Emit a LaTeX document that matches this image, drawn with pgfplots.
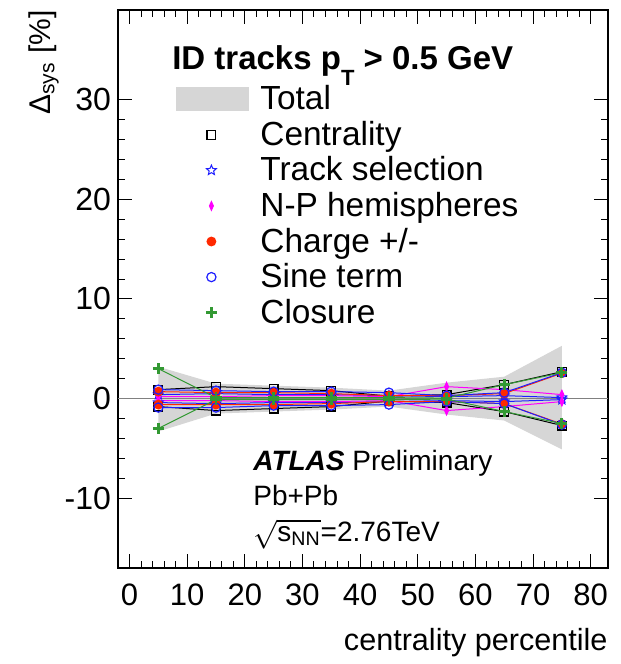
\documentclass[border=0pt]{standalone}
\usepackage{pgfplots}
\pgfplotsset{compat=1.18}
\usepackage{fontspec}
\setmainfont{Liberation Sans}
\usetikzlibrary{plotmarks}
\definecolor{cgreen}{RGB}{51,153,51}
\definecolor{cred}{RGB}{255,40,0}
\definecolor{cblue}{RGB}{30,30,255}
\definecolor{cmag}{RGB}{255,0,255}
\definecolor{cband}{RGB}{214,214,214}
\pgfdeclareplotmark{ostar}{%
  \pgfpathmoveto{\pgfpointpolar{90}{\pgfplotmarksize}}%
  \pgfpathlineto{\pgfpointpolar{126}{0.45\pgfplotmarksize}}%
  \pgfpathlineto{\pgfpointpolar{162}{\pgfplotmarksize}}%
  \pgfpathlineto{\pgfpointpolar{198}{0.45\pgfplotmarksize}}%
  \pgfpathlineto{\pgfpointpolar{234}{\pgfplotmarksize}}%
  \pgfpathlineto{\pgfpointpolar{270}{0.45\pgfplotmarksize}}%
  \pgfpathlineto{\pgfpointpolar{306}{\pgfplotmarksize}}%
  \pgfpathlineto{\pgfpointpolar{342}{0.45\pgfplotmarksize}}%
  \pgfpathlineto{\pgfpointpolar{18}{\pgfplotmarksize}}%
  \pgfpathlineto{\pgfpointpolar{54}{0.45\pgfplotmarksize}}%
  \pgfpathclose\pgfusepathqstroke}
\pgfplotsset{
  markleg/.style={legend image code/.code={\draw[##1] plot coordinates {(17.5pt,0pt)};}},
  bandleg/.style={legend image code/.code={\fill[cband] (0pt,-6pt) rectangle (36.5pt,6pt);}},
}
\begin{document}
\begin{tikzpicture}
\path (-59pt,-48pt) rectangle (251.5pt,284pt);
\begin{axis}[
  at={(0pt,0pt)}, anchor=south west,
  scale only axis, width=245pt, height=279pt,
  xmin=-2, xmax=83, ymin=-17, ymax=39,
  xtick={0,10,...,80}, ytick={-10,0,10,20,30},
  minor x tick num=4, minor y tick num=4,
  major tick length=7pt, minor tick length=3.5pt,
  tick style={black, line width=0.5pt},
  axis line style={line width=0.9pt},
  /pgf/number format/assume math mode=true,
  yticklabel style={font=\fontsize{16}{16}\selectfont},
  xticklabel style={font=\fontsize{15.5}{15.5}\selectfont, yshift=-4.5pt},
  xlabel={centrality percentile},
  xlabel style={at={(axis description cs:1,-0.108)}, anchor=north east, inner sep=0pt, font=\fontsize{15.3}{15.3}\selectfont},
  ylabel={Δ\textsubscript{sys} [\%]},
  ylabel style={at={(axis description cs:-0.1837,1)}, anchor=north east, inner sep=0pt, font=\fontsize{15}{15}\selectfont},
  legend style={draw=none, fill=none, at={(rel axis cs:0.1184,0.8726)}, anchor=north west,
    font=\fontsize{16.7}{19}\selectfont, inner sep=0pt, row sep=0.2pt,
    /tikz/every odd column/.append style={column sep=3.5pt}},
  legend cell align=left,
  clip=false,
]
\addplot[draw=none, fill=cband, bandleg]
  coordinates {(5,3.2) (15,1.5) (25,1.3) (35,1.1) (45,0.8) (55,1.6) (65,2.2) (75,5.3)
               (75,-5.1) (65,-2.2) (55,-1.6) (45,-0.8) (35,-1.1) (25,-1.3) (15,-1.5) (5,-3.3)} -- cycle;
\addlegendentry{Total}
\addplot[gray, line width=0.5pt, forget plot] coordinates {(-2,0) (83,0)};
% Centrality
\addplot[black, line width=0.5pt, mark=square, mark size=2.2pt, mark options={solid, line width=0.6pt}, markleg]
  coordinates {(5,0.9) (15,1.2) (25,1.0) (35,0.8) (45,0.25) (55,0.4) (65,1.4) (75,2.7)};
\addlegendentry{Centrality}
\addplot[black, line width=0.5pt, mark=square, mark size=2.2pt, mark options={solid, line width=0.6pt}, forget plot]
  coordinates {(5,-0.8) (15,-1.2) (25,-1.0) (35,-0.8) (45,-0.25) (55,-0.4) (65,-1.3) (75,-2.7)};
% Track selection
\addplot[cblue, line width=0.5pt, mark=ostar, mark size=2.6pt, mark options={solid, line width=0.5pt}, markleg]
  coordinates {(5,0.4) (15,0.5) (25,0.4) (35,0.4) (45,0.3) (55,0.2) (65,0.3) (75,0.1)};
\addlegendentry{Track selection}
\addplot[cblue, line width=0.5pt, mark=ostar, mark size=2.6pt, mark options={solid, line width=0.5pt}, forget plot]
  coordinates {(5,-0.4) (15,-0.5) (25,-0.4) (35,-0.4) (45,-0.3) (55,-0.2) (65,-0.3) (75,-0.1)};
% N-P hemispheres
\addplot[cmag, line width=0.5pt, mark=diamond*, mark size=2.2pt, mark options={solid, fill=cmag, xscale=0.6}, markleg]
  coordinates {(5,0.2) (15,0.2) (25,0.3) (35,0.3) (45,0.2) (55,1.2) (65,0.9) (75,0.4)};
\addlegendentry{N-P hemispheres}
\addplot[cmag, line width=0.5pt, mark=diamond*, mark size=2.2pt, mark options={solid, fill=cmag, xscale=0.6}, forget plot]
  coordinates {(5,-0.2) (15,-0.2) (25,-0.3) (35,-0.3) (45,-0.2) (55,-1.2) (65,-0.8) (75,-0.3)};
% Charge
\addplot[cred, line width=0.5pt, mark=*, mark size=2.2pt, mark options={solid, fill=cred}, markleg]
  coordinates {(5,0.7) (15,0.6) (25,0.6) (35,0.5) (45,0.3) (55,0.3) (65,0.5) (75,2.55)};
\addlegendentry{Charge +/-}
\addplot[cred, line width=0.5pt, mark=*, mark size=2.2pt, mark options={solid, fill=cred}, forget plot]
  coordinates {(5,-0.6) (15,-0.6) (25,-0.6) (35,-0.5) (45,-0.3) (55,-0.3) (65,-0.5) (75,-2.55)};
% Sine term
\addplot[cblue, line width=0.5pt, mark=o, mark size=2.3pt, mark options={solid, line width=0.6pt}, markleg]
  coordinates {(5,0.9) (15,0.8) (25,0.7) (35,0.7) (45,0.6) (55,0.3) (65,0.6) (75,2.6)};
\addlegendentry{Sine term}
\addplot[cblue, line width=0.5pt, mark=o, mark size=2.3pt, mark options={solid, line width=0.6pt}, forget plot]
  coordinates {(5,-0.9) (15,-0.9) (25,-0.7) (35,-0.7) (45,-0.6) (55,-0.3) (65,-0.5) (75,-2.6)};
% Closure
\addplot[cgreen, line width=0.5pt, mark=+, mark size=2.8pt, mark options={solid, line width=1.4pt}, markleg]
  coordinates {(5,3.0) (15,0.1) (25,0.1) (35,0.1) (45,0.1) (55,0.05) (65,1.4) (75,2.6)};
\addlegendentry{Closure}
\addplot[cgreen, line width=0.5pt, mark=+, mark size=2.8pt, mark options={solid, line width=1.4pt}, forget plot]
  coordinates {(5,-3.0) (15,-0.1) (25,-0.1) (35,-0.1) (45,-0.1) (55,-0.05) (65,-1.3) (75,-2.5)};
\node[anchor=base west, inner sep=0pt, font=\bfseries\fontsize{16.5}{16.5}\selectfont]
  at (rel axis cs:0.110,0.8926) {ID tracks p\raisebox{-8pt}{\fontsize{11}{11}\selectfont T} > 0.5 GeV};
\node[anchor=base west, inner sep=0pt, font=\fontsize{14}{14}\selectfont]
  at (rel axis cs:0.2755,0.1756) {\textbf{\textit{ATLAS}} Preliminary};
\node[anchor=base west, inner sep=0pt, font=\fontsize{14}{14}\selectfont]
  at (rel axis cs:0.2755,0.1129) {Pb+Pb};
\node[anchor=base west, inner sep=0pt, font=\fontsize{14}{14}\selectfont]
  at (rel axis cs:0.2755,0.0480) {\smash{$\sqrt{\mbox{s\textsubscript{NN}}}$}=2.76TeV};
\end{axis}
\end{tikzpicture}
\end{document}
